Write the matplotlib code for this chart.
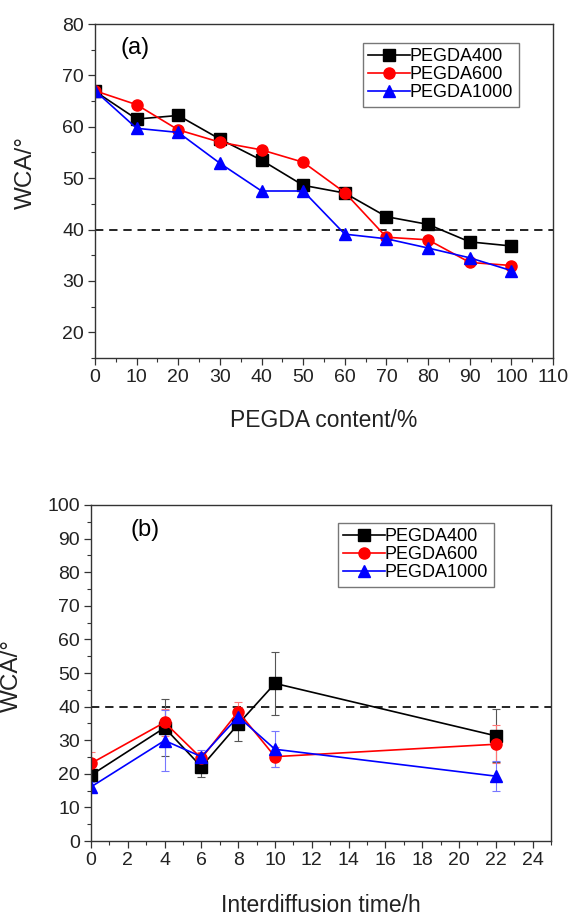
import matplotlib
matplotlib.use("Agg")
import matplotlib.pyplot as plt
from matplotlib.ticker import MultipleLocator
from matplotlib.lines import Line2D

plt.rcParams['font.family'] = ['Liberation Sans', 'DejaVu Sans']

# ---- Panel (a) data ----
content = [0, 10, 20, 30, 40, 50, 60, 70, 80, 90, 100]
a_400 = [66.9, 61.5, 62.2, 57.6, 53.5, 48.6, 47.1, 42.5, 41.0, 37.6, 36.8]
a_600 = [67.0, 64.3, 59.4, 57.0, 55.5, 53.1, 47.2, 38.5, 38.0, 33.6, 33.0]
a_1000 = [67.0, 59.7, 58.9, 52.9, 47.5, 47.5, 39.1, 38.2, 36.4, 34.5, 32.0]

# ---- Panel (b) data ----
time_h = [0, 4, 6, 8, 10, 22]
b_400 = [19.6, 33.7, 22.1, 34.8, 46.9, 31.3]
b_400_err = [1.5, 8.5, 3.0, 5.0, 9.4, 7.9]
b_600 = [23.1, 35.3, 24.6, 38.5, 25.1, 28.8]
b_600_err = [3.5, 4.0, 2.0, 2.8, 3.0, 5.7]
b_1000 = [16.1, 29.9, 25.1, 37.0, 27.3, 19.3]
b_1000_err = [1.5, 9.2, 2.0, 2.5, 5.4, 4.4]

labels = ['PEGDA400', 'PEGDA600', 'PEGDA1000']
colors = ['black', 'red', 'blue']
markers = ['s', 'o', '^']
ecolors = ['#555555', '#ff7777', '#7777ff']

W, H = 574, 917
fig = plt.figure(figsize=(W / 100, H / 100), dpi=100)

TICK_FS = 14
LABEL_FS = 16.5
YLABEL_FS = 17.5
LEG_FS = 13
YLABEL = 'WCA/°'


def style_axes(ax):
    for s in ax.spines.values():
        s.set_color('#333333')
        s.set_linewidth(1.0)
    ax.tick_params(which='major', direction='out', length=5, width=0.9,
                   labelsize=TICK_FS, colors='#333333', labelcolor='#222222',
                   top=False, right=False, pad=3)
    ax.tick_params(which='minor', direction='out', length=3, width=0.8,
                   colors='#333333', top=False, right=False)


def add_legend(ax, x_px, y_px, left, bottom, w, h):
    handles = [Line2D([], [], color=c, marker=m, markersize=8, linewidth=1.2)
               for c, m in zip(colors, markers)]
    leg = ax.legend(handles, labels, loc='upper left',
                    bbox_to_anchor=((x_px - left) / w, (bottom - y_px) / h),
                    fontsize=LEG_FS, frameon=True, fancybox=False, handlelength=2.3,
                    borderpad=0.3, labelspacing=0.05, handletextpad=0.0,
                    borderaxespad=0)
    leg.get_frame().set_edgecolor('#777777')
    leg.get_frame().set_linewidth(1.0)
    leg.get_frame().set_alpha(1)
    return leg


# ---- Panel (a) ----
L1, R1, T1, B1 = 95, 553, 24, 358
ax1 = fig.add_axes([L1 / W, 1 - B1 / H, (R1 - L1) / W, (B1 - T1) / H])
for ys, c, m, lab in zip([a_400, a_600, a_1000], colors, markers, labels):
    ax1.plot(content, ys, color=c, marker=m, markersize=8, linewidth=1.2, label=lab)
ax1.axhline(40, color='black', linestyle=(0, (5, 3.5)), linewidth=1.2, zorder=0)
ax1.set_xlim(0, 110)
ax1.set_ylim(15, 80)
ax1.xaxis.set_major_locator(MultipleLocator(10))
ax1.xaxis.set_minor_locator(MultipleLocator(5))
ax1.yaxis.set_minor_locator(MultipleLocator(5))
ax1.set_yticks([20, 30, 40, 50, 60, 70, 80])
style_axes(ax1)
ax1.set_xlabel('PEGDA content/%', fontsize=LABEL_FS, color='#222222', va='center')
ax1.xaxis.set_label_coords(0.5, (B1 - 420) / (B1 - T1))
ax1.set_ylabel(YLABEL, fontsize=YLABEL_FS, color='#222222', va='center')
ax1.yaxis.set_label_coords((26 - L1) / (R1 - L1), (B1 - 172) / (B1 - T1))
ax1.text((135 - L1) / (R1 - L1), (B1 - 48) / (B1 - T1), '(a)', transform=ax1.transAxes,
         fontsize=17, va='center', ha='center')
add_legend(ax1, 363, 43, L1, B1, R1 - L1, B1 - T1)

# ---- Panel (b) ----
L2, R2, T2, B2 = 91, 551, 505, 841
ax2 = fig.add_axes([L2 / W, 1 - B2 / H, (R2 - L2) / W, (B2 - T2) / H])
for ys, es, c, m, ec, lab in zip([b_400, b_600, b_1000], [b_400_err, b_600_err, b_1000_err],
                                  colors, markers, ecolors, labels):
    ax2.errorbar(time_h, ys, yerr=es, color=c, marker=m, markersize=8, linewidth=1.2,
                 ecolor=ec, elinewidth=0.8, capsize=3, capthick=0.8, label=lab)
ax2.axhline(40, color='black', linestyle=(0, (5, 3.5)), linewidth=1.2, zorder=0)
ax2.set_xlim(0, 25)
ax2.set_ylim(0, 100)
ax2.xaxis.set_minor_locator(MultipleLocator(1))
ax2.yaxis.set_major_locator(MultipleLocator(10))
ax2.yaxis.set_minor_locator(MultipleLocator(5))
ax2.set_xticks(list(range(0, 25, 2)))
style_axes(ax2)
ax2.set_xlabel('Interdiffusion time/h', fontsize=LABEL_FS, color='#222222', va='center')
ax2.xaxis.set_label_coords(0.5, (B2 - 905) / (B2 - T2))
ax2.set_ylabel(YLABEL, fontsize=YLABEL_FS, color='#222222', va='center')
ax2.yaxis.set_label_coords((12 - L2) / (R2 - L2), (B2 - 676) / (B2 - T2))
ax2.text((145 - L2) / (R2 - L2), (B2 - 530) / (B2 - T2), '(b)', transform=ax2.transAxes,
         fontsize=17, va='center', ha='center')
add_legend(ax2, 338, 523, L2, B2, R2 - L2, B2 - T2)

fig.savefig('out.png', dpi=100)
